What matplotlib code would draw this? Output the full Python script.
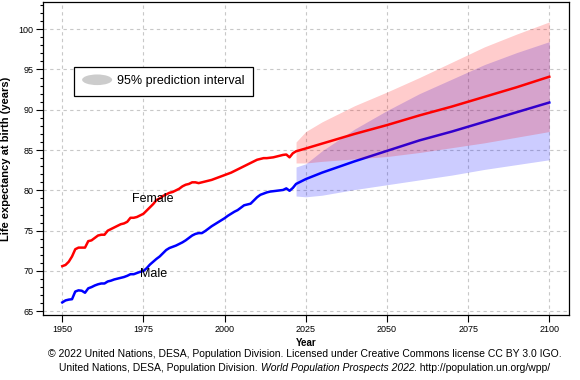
import matplotlib
matplotlib.use("Agg")
import matplotlib.pyplot as plt
import matplotlib.patches as mpatches
from matplotlib.legend_handler import HandlerPatch
from matplotlib.ticker import MultipleLocator

plt.rcParams['font.family'] = ['Liberation Sans', 'DejaVu Sans']

# ---------------- data ----------------
hist_years = list(range(1950, 2022))
female_hist = [70.6, 70.75, 71.15, 71.8, 72.7, 72.9, 72.9, 72.9, 73.7, 73.8,
               74.1, 74.4, 74.5, 74.5, 75.0, 75.2, 75.4, 75.6, 75.8, 75.9,
               76.1, 76.6, 76.6, 76.7, 76.9, 77.1, 77.5, 77.9, 78.3, 78.8,
               79.0, 79.3, 79.5, 79.7, 79.8, 80.0, 80.2, 80.5, 80.7, 80.8,
               81.0, 81.0, 80.9, 81.0, 81.1, 81.2, 81.3, 81.45, 81.6, 81.75,
               81.9, 82.05, 82.2, 82.4, 82.6, 82.8, 83.0, 83.2, 83.4, 83.6,
               83.8, 83.9, 84.0, 84.0, 84.05, 84.1, 84.2, 84.3, 84.4, 84.45,
               84.1, 84.6]
male_hist = [66.1, 66.35, 66.45, 66.5, 67.45, 67.6, 67.55, 67.3, 67.85, 68.0,
             68.2, 68.35, 68.45, 68.45, 68.7, 68.8, 68.95, 69.05, 69.15, 69.25,
             69.4, 69.6, 69.6, 69.75, 69.9, 70.0, 70.35, 70.8, 71.15, 71.5,
             71.8, 72.2, 72.6, 72.85, 73.0, 73.15, 73.35, 73.55, 73.8, 74.1,
             74.4, 74.6, 74.7, 74.7, 74.95, 75.25, 75.55, 75.8, 76.05, 76.3,
             76.55, 76.85, 77.1, 77.35, 77.55, 77.85, 78.15, 78.25, 78.35, 78.75,
             79.15, 79.45, 79.6, 79.75, 79.85, 79.9, 79.95, 80.0, 80.05, 80.25,
             79.95, 80.3]

proj_years = [2022, 2025, 2030, 2040, 2050, 2060, 2070, 2080, 2090, 2100]
female_proj = [84.85, 85.2, 85.8, 87.0, 88.1, 89.3, 90.4, 91.6, 92.8, 94.1]
male_proj = [80.8, 81.4, 82.2, 83.6, 84.9, 86.2, 87.3, 88.5, 89.7, 90.9]
female_lo = [83.4, 83.4, 83.6, 83.9, 84.2, 84.7, 85.3, 85.9, 86.6, 87.3]
female_hi = [86.0, 87.3, 88.5, 90.5, 92.2, 94.0, 95.9, 97.8, 99.4, 100.9]
male_lo = [79.3, 79.2, 79.4, 80.1, 80.7, 81.3, 81.9, 82.6, 83.2, 83.8]
male_hi = [82.9, 83.3, 84.9, 87.6, 89.9, 92.0, 93.8, 95.6, 97.1, 98.45]

x_ticks = [1950, 1975, 2000, 2025, 2050, 2075, 2100]
y_ticks = [65, 70, 75, 80, 85, 90, 95, 100]

# ---------------- figure ----------------
fig = plt.figure(figsize=(5.8, 3.8), dpi=100)
ax = fig.add_axes([43/580, 1-315/380, (569-43)/580, (315-2)/380])

ax.set_xlim(1944.06, 2106.07)
ax.set_ylim(64.54, 103.37)

ax.grid(True, which='major', color='#c8c8c8', linestyle=(0, (3, 3)), linewidth=0.8)
ax.set_axisbelow(True)

ax.fill_between(proj_years, male_lo, male_hi, color='#0000ff', alpha=0.2, linewidth=0, zorder=2)
ax.plot(hist_years + proj_years, male_hist + male_proj, color='#0000ff', lw=1.8, zorder=3)
ax.plot(hist_years + proj_years, female_hist + female_proj, color='#ff0000', lw=1.8, zorder=3)
ax.fill_between(proj_years, female_lo, female_hi, color='#ff0000', alpha=0.2, linewidth=0, zorder=4)

ax.text(1978.0, 78.6, 'Female', ha='center', va='baseline', fontsize=9, zorder=5)
ax.text(1978.0, 69.25, 'Male', ha='center', va='baseline', fontsize=9, zorder=5)

ax.set_xticks(x_ticks)
ax.set_yticks(y_ticks)
ax.yaxis.set_minor_locator(MultipleLocator(1))
ax.tick_params(axis='both', which='major', labelsize=6.5, length=5, width=0.8, pad=2, color='black')
ax.tick_params(axis='y', which='minor', length=2.5, width=0.8)
for s in ax.spines.values():
    s.set_linewidth(0.9)

ax.set_xlabel('Year', fontsize=7, fontweight='bold', labelpad=3)
ax.set_ylabel('Life expectancy at birth (years)', fontsize=8, fontweight='bold', labelpad=5)


class HandlerEllipse(HandlerPatch):
    def create_artists(self, legend, orig_handle, xdescent, ydescent, width, height, fontsize, trans):
        center = (0.5 * width - 0.5 * xdescent, 0.5 * height - 0.5 * ydescent)
        p = mpatches.Ellipse(xy=center, width=width + xdescent, height=height + ydescent)
        self.update_prop(p, orig_handle, legend)
        p.set_transform(trans)
        return [p]


handle = mpatches.Patch(facecolor='#cccccc', edgecolor='none')
leg = ax.legend([handle], ['95% prediction interval'], loc='upper left',
                bbox_to_anchor=(31/526, 1-65/313), borderaxespad=0,
                handler_map={mpatches.Patch: HandlerEllipse()},
                fontsize=9, frameon=True, fancybox=False, framealpha=1,
                edgecolor='black', handlelength=2.4, handleheight=0.85,
                handletextpad=0.4, borderpad=0.65)
leg.get_frame().set_linewidth(0.9)
leg.set_zorder(6)

# footer
fig.text(305/580, 1-354/380, '\u00a9 2022 United Nations, DESA, Population Division. Licensed under Creative Commons license CC BY 3.0 IGO.',
         ha='center', va='center', fontsize=7.5)

parts = [('United Nations, DESA, Population Division. ', 'normal'),
         ('World Population Prospects 2022', 'italic'),
         ('. http://population.un.org/wpp/', 'normal')]
renderer = fig.canvas.get_renderer()
texts = []
widths = []
for s, st in parts:
    t = fig.text(0, 1-368/380, s, ha='left', va='center', fontsize=7.5, style=st)
    texts.append(t)
    widths.append(t.get_window_extent(renderer).width)
total = sum(widths)
x0 = 305 - total/2
for t, w in zip(texts, widths):
    t.set_x(x0/580)
    x0 += w

fig.savefig('out.png', dpi=100)
